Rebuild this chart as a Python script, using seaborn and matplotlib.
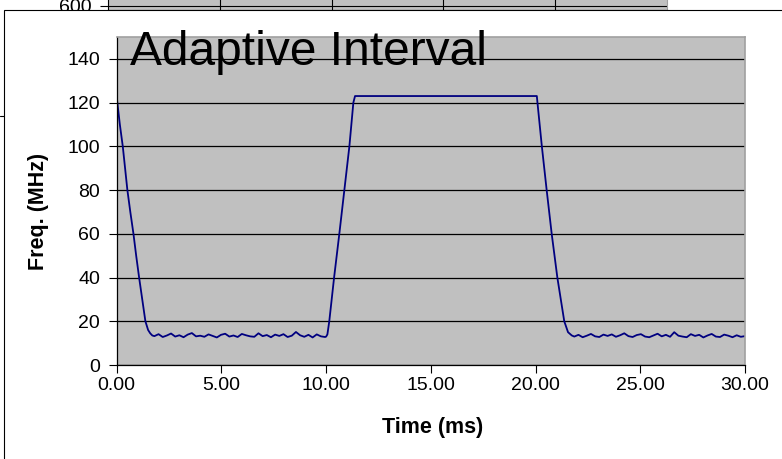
import numpy as np
import pandas as pd
import matplotlib
matplotlib.use("Agg")
import matplotlib.pyplot as plt
from matplotlib.patches import Rectangle
from matplotlib.lines import Line2D
import seaborn as sns

# ---- data -------------------------------------------------------------
# initial fall from full speed
fall1_t = [0.0, 0.03, 0.15, 0.29, 0.40, 0.51, 0.65, 0.80, 0.93, 1.07, 1.22, 1.37, 1.50, 1.60, 1.70]
fall1_f = [123, 120, 110, 100, 90, 80, 70, 60, 50, 40, 30, 20, 16, 14.5, 13.5]

# first idle period (1.8 .. 9.95 ms)
idle1_f = [13.2, 14.1, 12.8, 13.5, 14.4, 13.0, 13.6, 12.7, 13.9, 14.6, 13.1, 13.4, 12.9, 14.0,
           13.3, 12.6, 13.8, 14.3, 13.0, 13.5, 12.8, 14.2, 13.6, 13.1, 12.9, 14.5, 13.2, 13.7,
           12.7, 13.9, 13.3, 14.1, 12.8, 13.4, 15.1, 13.6, 12.9, 13.8, 12.6, 14.0, 13.1, 12.8]

# ramp up, plateau and ramp down
rise_t = [10.0, 10.06, 10.15, 10.38, 10.63, 10.87, 11.11, 11.30, 11.38]
rise_f = [13.0, 14, 20, 40, 60, 80, 100, 120, 123]
top_t = [15.0, 20.06]
top_f = [123, 123]
fall2_t = [20.09, 20.30, 20.53, 20.77, 21.04, 21.37, 21.55, 21.73]
fall2_f = [120, 100, 80, 60, 40, 20, 15, 13.5]

# second idle period (21.85 .. 30 ms)
idle2_f = [13.0, 13.8, 12.7, 13.4, 14.2, 13.1, 12.8, 13.9, 13.3, 14.0, 12.9, 13.6, 14.5, 13.2,
           12.8, 13.7, 14.1, 13.0, 12.7, 13.5, 14.3, 13.1, 13.8, 12.9, 15.0, 13.4, 13.0, 12.7,
           14.1, 13.3, 13.8, 12.6, 13.5, 14.2, 13.0, 12.8, 13.9, 13.4, 12.7, 13.6, 12.9, 13.2]

x_ticks = [0, 5, 10, 15, 20, 25, 30]
y_ticks = [0, 20, 40, 60, 80, 100, 120, 140]

time_ms = np.concatenate([fall1_t, np.linspace(1.8, 9.95, len(idle1_f)), rise_t, top_t,
                          fall2_t, np.linspace(21.85, 30.0, len(idle2_f))])
freq = np.concatenate([fall1_f, idle1_f, rise_f, top_f, fall2_f, idle2_f])
df = pd.DataFrame({"Time (ms)": time_ms, "Freq. (MHz)": freq})

# ---- style ------------------------------------------------------------
sns.set_style("white")
plt.rcParams["font.family"] = ["Liberation Sans", "DejaVu Sans"]
plt.rcParams.update({"text.color": "black", "axes.labelcolor": "black",
                     "xtick.color": "black", "ytick.color": "black"})

W, H = 782, 459
fig = plt.figure(figsize=(W / 100, H / 100), dpi=100)
fig.patch.set_facecolor("white")

def fx(px):
    return px / W

def fy(py):
    return (H - py) / H

# chart lying behind (only its lower edge shows)
ax_bg = fig.add_axes([fx(108), fy(10), fx(667) - fx(108), 100 / H])
ax_bg.set_zorder(0)
ax_bg.set_facecolor("#C0C0C0")
ax_bg.set_xlim(0, 5)
ax_bg.set_ylim(596, 696)
ax_bg.set_xticks([1, 2, 3, 4])
ax_bg.set_xticklabels([])
ax_bg.set_yticks([600])
ax_bg.set_yticklabels(["600"], fontsize=14)
ax_bg.tick_params(axis="y", direction="out", length=6, width=0.8, pad=6, left=True)
ax_bg.tick_params(axis="x", length=0)
ax_bg.grid(True, color="black", linewidth=0.8)
for s in ["left", "bottom"]:
    ax_bg.spines[s].set_color("black")
for s in ["top", "right"]:
    ax_bg.spines[s].set_color("#A0A0A0")

fig.add_artist(Line2D([0, fx(4)], [fy(116), fy(116)], color="black", linewidth=0.8, zorder=0.5))

# white chart frame
frame = Rectangle((fx(4), -0.1), 1.2, fy(10) + 0.1, transform=fig.transFigure,
                  facecolor="white", edgecolor="black", linewidth=0.8, zorder=1)
fig.add_artist(frame)

# main plot area
ax = fig.add_axes([fx(116.7), fy(365), fx(745) - fx(116.7), (365 - 37) / H])
ax.set_zorder(2)
ax.set_facecolor("#C0C0C0")
sns.lineplot(data=df, x="Time (ms)", y="Freq. (MHz)", ax=ax, sort=False, estimator=None,
             color="#000080", linewidth=1.3)
ax.set_xlim(0, 30)
ax.set_ylim(0, 150)
ax.set_xticks(x_ticks)
ax.set_xticklabels([f"{v:.2f}" for v in x_ticks], fontsize=14)
ax.set_yticks(y_ticks)
ax.set_yticklabels([str(v) for v in y_ticks], fontsize=14)
ax.tick_params(axis="both", direction="out", length=6, width=0.8, color="black",
               left=True, bottom=True)
ax.tick_params(axis="y", pad=6)
ax.tick_params(axis="x", pad=3)
ax.yaxis.grid(True, color="black", linewidth=0.9)
ax.xaxis.grid(False)
for s in ["left", "bottom"]:
    ax.spines[s].set_color("black")
    ax.spines[s].set_linewidth(0.9)
for s in ["top", "right"]:
    ax.spines[s].set_color("#A0A0A0")
    ax.spines[s].set_linewidth(1.2)

ax.set_xlabel("Time (ms)", fontsize=15.5, fontweight="bold")
ax.set_ylabel("Freq. (MHz)", fontsize=15.5, fontweight="bold")
ax.xaxis.set_label_coords(0.503, (365 - 428) / 328)
ax.xaxis.label.set_verticalalignment("center")
ax.yaxis.set_label_coords((39 - 116.7) / 628.3, (365 - 211) / 328)
ax.yaxis.label.set_verticalalignment("center")

fig.text(fx(130), fy(65), "Adaptive Interval", fontsize=34.5, va="baseline", ha="left",
         family=["Liberation Sans Narrow", "Liberation Sans"], color="black", zorder=5)

fig.savefig("out.png", dpi=100)
